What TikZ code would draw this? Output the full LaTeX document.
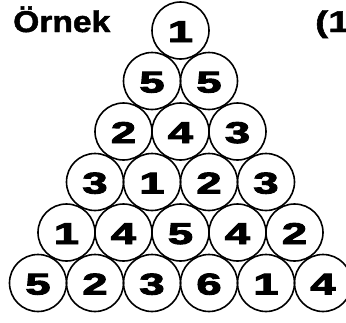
\documentclass[tikz,border=0pt]{standalone}
\usepackage{fontspec}
\usepackage{graphicx}
\setmainfont{Liberation Sans}
\newfontfamily\numfont[FakeBold=3]{Liberation Sans Bold}
\newfontfamily\ttlfont[FakeBold=1.5]{Liberation Sans Bold}
\begin{document}
\begin{tikzpicture}[x=1pt,y=-1pt,
  ball/.style={circle,draw=black,line width=1.6pt,minimum size=57pt,inner sep=0pt},
  digit/.style={anchor=base,inner sep=0pt,font=\numfont\fontsize{30}{30}\selectfont},
  title/.style={anchor=base west,inner sep=0pt,font=\ttlfont\fontsize{30}{30}\selectfont}]
\useasboundingbox (0,0) rectangle (346,322);
\node[title] (t) at (13,32) {\scalebox{1.12}[1]{Örnek}};
\node[title] (n) at (315,32) {\scalebox{1.3}[1]{(1)}};
\foreach \row/\vals in {0/{1},1/{5,5},2/{2,4,3},3/{3,1,2,3},4/{1,4,5,4,2},5/{5,2,3,6,1,4}}{
  \foreach \v [count=\i from 0] in \vals {
    \pgfmathsetmacro{\cx}{180.5+(\i-\row/2)*57}
    \pgfmathsetmacro{\cy}{30.5+\row*50.5}
    \node[ball] (c\row\i) at (\cx,\cy) {};
    \node[digit] (d\row\i) at (\cx,\cy+11.5) {\scalebox{1.5}[1]{\v}};
  }
}
\end{tikzpicture}
\end{document}
